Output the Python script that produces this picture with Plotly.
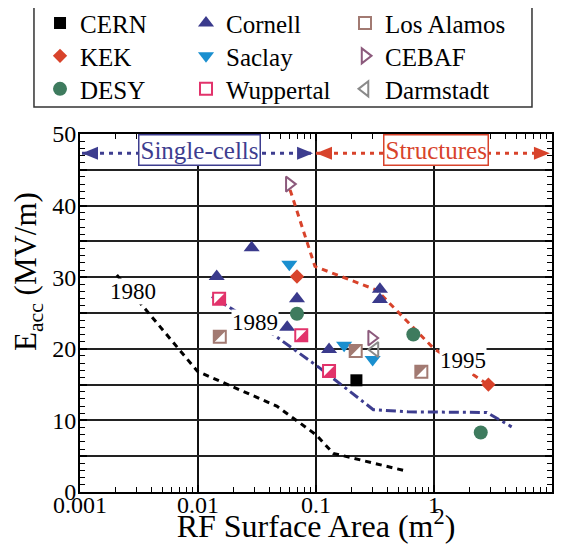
import numpy as np
import plotly.graph_objects as go

# ---------------- data ----------------
cern_x = [0.22];                     cern_y = [15.6]
kek_x = [0.069, 2.89];               kek_y = [30.1, 15.0]
desy_x = [0.069, 0.668, 2.49];       desy_y = [24.9, 22.0, 8.3]
cornell_x = [0.0144, 0.0285, 0.069, 0.057, 0.129, 0.348, 0.348]
cornell_y = [30.1, 34.1, 27.0, 23.0, 19.9, 28.3, 26.9]
saclay_x = [0.0594, 0.173, 0.302];   saclay_y = [31.8, 20.5, 18.5]
wupp_x = [0.0151, 0.075, 0.129];     wupp_y = [27.0, 21.9, 16.9]
losal_x = [0.0153, 0.217, 0.781];    losal_y = [21.7, 19.7, 16.8]
cebaf_x = [0.0594, 0.296];           cebaf_y = [43.0, 21.5]
darm_x = [0.316];                    darm_y = [19.9]

line1980_x = [0.00205, 0.0099, 0.0465, 0.1, 0.14, 0.59]
line1980_y = [30.3, 16.85, 12.0, 8.0, 5.4, 2.9]
line1989_x = [0.0131, 0.0213, 0.0435, 0.108, 0.306, 0.6, 2.8, 4.55]
line1989_y = [27.3, 25.2, 22.0, 17.3, 11.5, 11.2, 11.1, 9.1]
line1995_x = [0.0603, 0.098, 0.327, 0.987, 2.87]
line1995_y = [42.2, 31.5, 28.2, 20.1, 15.0]

year_text = ["1980", "1989", "1995"]
year_x = [0.00281, 0.0304, 1.77]
year_y = [28.0, 23.7, 18.3]

span_names = ["Single-cells", "Structures"]
span_x0 = [0.00104, 0.1]
span_x1 = [0.0944, 9.6]
span_y = [47.3, 47.3]
span_label_x = [0.0103, 1.03]

x_tickvals = [0.001, 0.01, 0.1, 1, 10]
x_ticktext = ["0.001", "0.01", "0.1", "1", "10"]
y_tickvals = [0, 5, 10, 15, 20, 25, 30, 35, 40, 45, 50]
y_ticktext = ["0", "", "10", "", "20", "", "30", "", "40", "", "50"]

x_title = "RF Surface Area (m<sup>2</sup>)"
y_title = "E<sub>acc</sub> (MV/m)"

# ---------------- style ----------------
FONT = "Liberation Serif, Times New Roman, Times, serif"
C_KEK = "#d8432b"
C_DESY = "#3e7b5e"
C_CORN = "#3a3a8c"
C_SAC = "#1a8fcf"
C_WUP = "#e2336b"
C_LOS = "#a27a72"
C_CEB = "#8c5a7c"
C_DAR = "#8a8a8a"
C_BLUE = "#3d3d8f"

fig = go.Figure()

# trend lines
fig.add_trace(go.Scatter(x=line1980_x, y=line1980_y, mode="lines", showlegend=False,
                         line=dict(color="black", width=3, dash="6px,5px")))
fig.add_trace(go.Scatter(x=line1989_x, y=line1989_y, mode="lines", showlegend=False,
                         line=dict(color=C_BLUE, width=3, dash="10px,4px,3px,4px")))
fig.add_trace(go.Scatter(x=line1995_x, y=line1995_y, mode="lines", showlegend=False,
                         line=dict(color=C_KEK, width=3, dash="6px,5px")))

# span arrows (dotted lines)
span_colors = [C_BLUE, C_KEK]
for i in range(2):
    fig.add_trace(go.Scatter(x=[span_x0[i], span_x1[i]], y=[span_y[i], span_y[i]], mode="lines",
                             showlegend=False, line=dict(color=span_colors[i], width=3, dash="4px,5px")))

def sc(name, x, y, symbol, color, size, legend, fill=None, lw=0):
    fig.add_trace(go.Scatter(
        x=x, y=y, mode="markers", name=name, legend=legend,
        marker=dict(symbol=symbol, size=size, color=fill if fill else color,
                    line=dict(color=color, width=lw))))

# one legend per entry, laid out as a 3 x 3 block
sc("CERN", cern_x, cern_y, "square", "black", 12, "legend")
sc("KEK", kek_x, kek_y, "diamond", C_KEK, 11, "legend2")
sc("DESY", desy_x, desy_y, "circle", C_DESY, 14, "legend3")
sc("Cornell", cornell_x, cornell_y, "triangle-up", C_CORN, 14, "legend4")
sc("Saclay", saclay_x, saclay_y, "triangle-down", C_SAC, 14, "legend5")
sc("Wuppertal", wupp_x, wupp_y, "square", C_WUP, 12, "legend6", fill="white", lw=2)
sc("Los Alamos", losal_x, losal_y, "square", C_LOS, 12, "legend7", fill="white", lw=2)
sc("CEBAF", cebaf_x, cebaf_y, "triangle-right-open", C_CEB, 13, "legend8", lw=2)
sc("Darmstadt", darm_x, darm_y, "triangle-left-open", C_DAR, 13, "legend9", lw=2)

shapes = []
# half fills of the split squares
def half(xs, ys, color, path):
    for xv, yv in zip(xs, ys):
        shapes.append(dict(type="path", xref="x", yref="y", xsizemode="pixel", ysizemode="pixel",
                           xanchor=xv, yanchor=yv, path=path, fillcolor=color,
                           line=dict(width=0), layer="above"))
half(wupp_x, wupp_y, C_WUP, "M 6 6 L 6 -6 L -6 -6 Z")
half(losal_x, losal_y, C_LOS, "M -6 6 L 6 6 L -6 -6 Z")

# arrow heads
for i in range(2):
    shapes.append(dict(type="path", xref="x", yref="y", xsizemode="pixel", ysizemode="pixel",
                       xanchor=span_x0[i], yanchor=span_y[i], path="M 0 0 L 16 6.5 L 16 -6.5 Z",
                       fillcolor=span_colors[i], line=dict(width=0)))
    shapes.append(dict(type="path", xref="x", yref="y", xsizemode="pixel", ysizemode="pixel",
                       xanchor=span_x1[i], yanchor=span_y[i], path="M 0 0 L -16 6.5 L -16 -6.5 Z",
                       fillcolor=span_colors[i], line=dict(width=0)))

# legend frame
shapes.append(dict(type="rect", xref="paper", yref="paper", x0=-0.0975, x1=0.9576,
                   y0=1.0754, y1=1.3603, line=dict(color="#333", width=1.5)))

annotations = []
for t, xv, yv in zip(year_text, year_x, year_y):
    annotations.append(dict(x=np.log10(xv), y=yv, xref="x", yref="y", text=t, showarrow=False,
                            font=dict(family=FONT, size=23, color="black"), bgcolor="white", borderpad=0))
for i in range(2):
    annotations.append(dict(x=np.log10(span_label_x[i]), y=47.75, xref="x", yref="y", text=span_names[i],
                            showarrow=False, font=dict(family=FONT, size=25, color=span_colors[i]),
                            bgcolor="white", bordercolor=span_colors[i], borderwidth=1.5, borderpad=1))
# y axis title (placed as in the reference, above the axis centre)
annotations.append(dict(x=-0.1098, y=0.615, xref="paper", yref="paper", text=y_title, textangle=-90,
                        showarrow=False, xanchor="center", yanchor="middle",
                        font=dict(family=FONT, size=31, color="black")))

minor_x = [m * 10.0 ** e for e in range(-3, 1) for m in range(2, 10)]

leg_cols = [-0.0847, 0.2246, 0.5615]
leg_rows = [1.3738, 1.2818, 1.1897]
legends = {}
for k in range(9):
    key = "legend" if k == 0 else "legend%d" % (k + 1)
    legends[key] = dict(orientation="v", yanchor="top", xanchor="left",
                        x=leg_cols[k // 3], y=leg_rows[k % 3],
                        font=dict(family=FONT, size=25, color="black"), bgcolor="rgba(0,0,0,0)",
                        borderwidth=0, itemsizing="trace")

# the page body adds an 8px margin; the figure is sized and offset for it
fig.update_layout(
    width=553, height=536,
    margin=dict(l=72, r=9, t=126, b=51.5, autoexpand=False),
    paper_bgcolor="white", plot_bgcolor="white",
    font=dict(family=FONT, color="black"),
    shapes=shapes, annotations=annotations,
    xaxis=dict(type="log", range=[-3, 1], tickvals=x_tickvals, ticktext=x_ticktext,
               ticks="inside", ticklen=7, tickwidth=1.5, tickcolor="black",
               showgrid=True, gridcolor="#111", gridwidth=1.5,
               showline=True, linecolor="black", linewidth=2, mirror="ticks",
               tickfont=dict(family=FONT, size=24, color="black"), ticklabelstandoff=-10,
               minor=dict(tickvals=minor_x, ticks="inside", ticklen=5, tickwidth=1, tickcolor="black", showgrid=False),
               title=dict(text=x_title, font=dict(family=FONT, size=32, color="black"), standoff=9),
               zeroline=False),
    yaxis=dict(range=[0, 50], tickvals=y_tickvals, ticktext=y_ticktext,
               ticks="inside", ticklen=7, tickwidth=1.5, tickcolor="black",
               showgrid=True, gridcolor="#222", gridwidth=1.5,
               showline=True, linecolor="black", linewidth=2, mirror="ticks",
               tickfont=dict(family=FONT, size=24, color="black"), ticklabelstandoff=-3,
               minor=dict(dtick=1, ticks="inside", ticklen=5, tickwidth=1, tickcolor="black", showgrid=False),
               zeroline=False),
    **legends,
)

fig.write_html("out.html")
